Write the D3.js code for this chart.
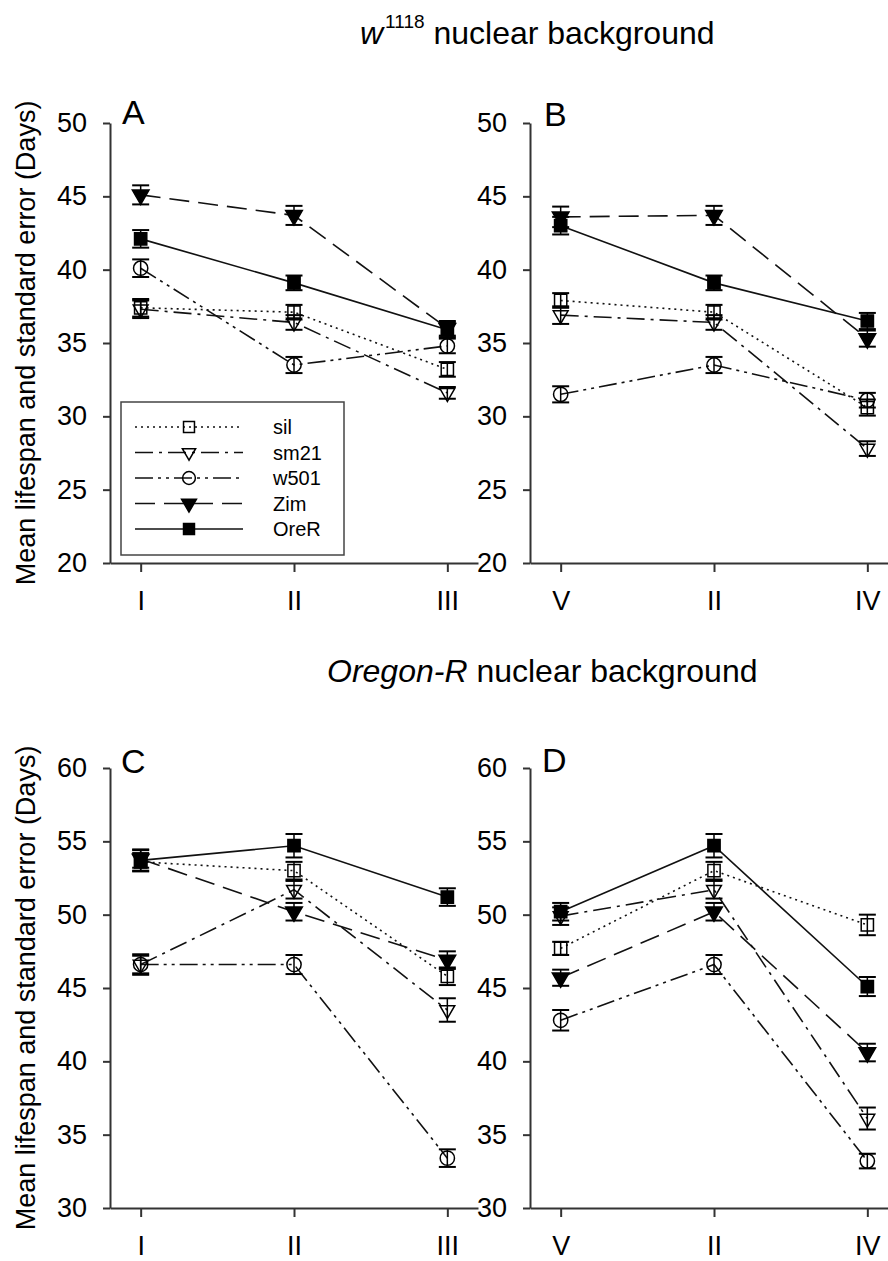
<!DOCTYPE html>
<html>
<head>
<meta charset="utf-8">
<script src="https://cdn.jsdelivr.net/npm/d3@7"></script>
<style>
  body { margin: 0; background: #fff; }
  text { font-family: "Liberation Sans", Arial, sans-serif; fill: #000; }
</style>
</head>
<body>
<script>
// mean lifespan, four panels

var strains = ["sil", "sm21", "w501", "Zim", "OreR"];
var catsA = ["I", "II", "III"];
var catsB = ["V", "II", "IV"];
var ticksTop = [20, 25, 30, 35, 40, 45, 50];
var ticksBottom = [30, 35, 40, 45, 50, 55, 60];

// rows follow strains order
var meanA = [[37.4, 37.1, 33.2], [37.3, 36.4, 31.6], [40.1, 33.5, 34.8], [45.1, 43.7, 36.0], [42.1, 39.1, 35.9]];
var seA   = [[0.6, 0.5, 0.5], [0.6, 0.5, 0.4], [0.6, 0.55, 0.5], [0.65, 0.65, 0.5], [0.6, 0.5, 0.5]];
var meanB = [[37.9, 37.1, 30.6], [36.9, 36.4, 27.8], [31.5, 33.5, 31.1], [43.6, 43.7, 35.3], [43.0, 39.1, 36.5]];
var seB   = [[0.5, 0.5, 0.55], [0.6, 0.5, 0.5], [0.55, 0.55, 0.5], [0.7, 0.65, 0.55], [0.6, 0.5, 0.55]];
var meanC = [[53.6, 53.0, 45.8], [46.6, 51.7, 43.5], [46.6, 46.6, 33.4], [53.8, 50.2, 46.9], [53.7, 54.7, 51.2]];
var seC   = [[0.6, 0.6, 0.6], [0.7, 0.6, 0.8], [0.6, 0.65, 0.6], [0.6, 0.6, 0.6], [0.75, 0.8, 0.6]];
var meanD = [[47.7, 53.0, 49.3], [49.9, 51.7, 36.1], [42.8, 46.6, 33.2], [45.7, 50.2, 40.6], [50.2, 54.7, 45.1]];
var seD   = [[0.45, 0.6, 0.7], [0.6, 0.6, 0.75], [0.7, 0.65, 0.5], [0.55, 0.6, 0.6], [0.6, 0.8, 0.65]];

var dashes = ["2,4", "18,6,3,6", "18,5,3,5,3,5", "20,9", null];
var shapes = [d3.symbolSquare, d3.symbolTriangle, d3.symbolCircle, d3.symbolTriangle, d3.symbolSquare];
var filled = [false, false, false, true, true];
var sizes = [150, 95, 160, 120, 150];

var svg = d3.select("body").append("svg").attr("width", 888).attr("height", 1261);

var panels = [
  { letter: "A", cats: catsA, mean: meanA, se: seA, ticks: ticksTop, left: 110, top: 123, lx: 122, ly: 124 },
  { letter: "B", cats: catsB, mean: meanB, se: seB, ticks: ticksTop, left: 530, top: 123, lx: 544, ly: 126 },
  { letter: "C", cats: catsA, mean: meanC, se: seC, ticks: ticksBottom, left: 110, top: 768, lx: 121, ly: 773 },
  { letter: "D", cats: catsB, mean: meanD, se: seD, ticks: ticksBottom, left: 530, top: 768, lx: 542, ly: 772 }
];

function marker(sel, i, size) {
  sel.append("path")
    .attr("d", d3.symbol().type(shapes[i]).size(size)())
    .attr("transform", (i == 1 || i == 3) ? "rotate(180)" : null)
    .attr("fill", filled[i] ? "#000" : "none")
    .attr("stroke", "#000")
    .attr("stroke-width", 1.5);
}

panels.forEach(function (p) {
  var x = d3.scaleLinear().domain([-0.2, 2.2]).range([p.left, p.left + 368]);
  var y = d3.scaleLinear().domain([d3.min(p.ticks), d3.max(p.ticks)]).range([p.top + 440, p.top]);

  var g = svg.append("g");

  var yAxis = g.append("g").attr("transform", "translate(" + p.left + ",0)")
    .call(d3.axisLeft(y).tickValues(p.ticks).tickSize(7).tickSizeOuter(0).tickPadding(16));
  var xAxis = g.append("g").attr("transform", "translate(0," + (p.top + 440) + ")")
    .call(d3.axisBottom(x).tickValues([0, 1, 2]).tickFormat(function (d) { return p.cats[d]; })
      .tickSize(9).tickSizeOuter(0).tickPadding(19));
  [yAxis, xAxis].forEach(function (a) {
    a.select(".domain").attr("stroke", "#333").attr("stroke-width", 2);
    a.selectAll(".tick line").attr("stroke", "#333").attr("stroke-width", 2);
    a.selectAll("text").style("font-size", "27px").attr("fill", "#000");
  });

  g.append("text").attr("x", p.lx).attr("y", p.ly).style("font-size", "34px").text(p.letter);

  var line = d3.line()
    .x(function (d, i) { return x(i); })
    .y(function (d) { return y(d); });

  p.mean.forEach(function (vals, s) {
    g.append("path")
      .attr("fill", "none")
      .attr("stroke", "#111")
      .attr("stroke-width", 1.6)
      .attr("stroke-dasharray", dashes[s])
      .attr("d", line(vals));
  });

  p.mean.forEach(function (vals, s) {
    vals.forEach(function (v, i) {
      var e = p.se[s][i];
      var bar = g.append("g").attr("stroke", "#000").attr("stroke-width", 2);
      bar.append("line").attr("x1", x(i)).attr("x2", x(i)).attr("y1", y(v - e)).attr("y2", y(v + e)).attr("stroke-width", 1.5);
      bar.append("line").attr("x1", x(i) - 8.5).attr("x2", x(i) + 8.5).attr("y1", y(v - e)).attr("y2", y(v - e));
      bar.append("line").attr("x1", x(i) - 8.5).attr("x2", x(i) + 8.5).attr("y1", y(v + e)).attr("y2", y(v + e));
      var m = g.append("g").attr("transform", "translate(" + x(i) + "," + y(v) + ")");
      marker(m, s, sizes[s]);
    });
  });
});

// y axis labels
[343, 988].forEach(function (cy) {
  svg.append("text")
    .attr("transform", "translate(35," + cy + ") rotate(-90)")
    .attr("text-anchor", "middle")
    .style("font-size", "27px")
    .text("Mean lifespan and standard error (Days)");
});

// titles
var t1 = svg.append("text").attr("x", 360).attr("y", 44).style("font-size", "32px");
t1.append("tspan").style("font-style", "italic").text("w");
t1.append("tspan").attr("dx", 2).attr("dy", -16).style("font-size", "19px").text("1118");
t1.append("tspan").attr("dy", 16).text(" nuclear background");

var t2 = svg.append("text").attr("x", 327).attr("y", 682).style("font-size", "32px");
t2.append("tspan").style("font-style", "italic").text("Oregon-R");
t2.append("tspan").text(" nuclear background");

// legend in panel A
var leg = svg.append("g");
leg.append("rect").attr("x", 121).attr("y", 402).attr("width", 223).attr("height", 153)
  .attr("fill", "#fff").attr("stroke", "#444").attr("stroke-width", 1.5);
strains.forEach(function (s, i) {
  var ry = 427 + i * 25.5;
  leg.append("line").attr("x1", 135).attr("x2", 243).attr("y1", ry).attr("y2", ry)
    .attr("stroke", "#111").attr("stroke-width", 1.4).attr("stroke-dasharray", dashes[i]);
  var m = leg.append("g").attr("transform", "translate(189," + ry + ")");
  marker(m, i, sizes[i] * 0.8);
  leg.append("text").attr("x", 273).attr("y", ry + 7).style("font-size", "20px").text(s);
});
</script>
</body>
</html>
